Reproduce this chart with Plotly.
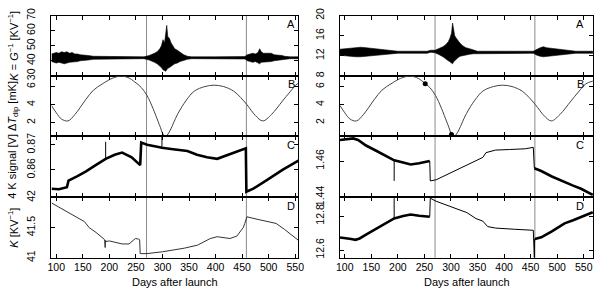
import plotly.graph_objects as go

# ---------------- data ----------------
left_xrange = [91, 555.8]
right_xrange = [91, 567.5]
day_ticks = [100, 150, 200, 250, 300, 350, 400, 450, 500, 550]
survey_boundaries = [270, 458]

# Panel A (left column): K = 1/G, noise envelope (upper / lower)
a_left_days = [91, 95, 100, 105, 110, 115, 120, 125, 130, 135, 140, 145, 150, 160, 170, 180, 190, 200, 230, 265,
               275, 280, 285, 290, 295, 298, 301, 304, 306, 308, 310, 313, 316, 319, 323, 328, 333, 340, 347, 355,
               400, 455, 460, 465, 470, 475, 480, 483, 486, 490, 495, 500, 505, 510, 515, 520, 525, 530, 540, 556]
a_left_upper = [44.5, 45, 45.5, 45, 46, 45.5, 46, 45, 45.5, 44.5, 44.5, 44, 44, 43.5, 43, 43, 42.8, 42.6, 42.6, 42.6,
                43.5, 44, 45, 46, 48, 50, 54, 52, 58, 63.5, 56, 55, 52, 50, 48, 47, 45.5, 44, 43, 42.6,
                42.6, 42.8, 44, 44.5, 45, 44.5, 45.5, 48, 46, 45, 45, 44.5, 45, 44, 44, 43.5, 43.5, 43, 42.6, 42.6]
a_left_lower = [39.5, 39, 38.5, 39, 38.5, 38, 38.5, 39, 39, 39.5, 39.5, 40, 40.5, 40.5, 41, 41, 41.2, 41.4, 41.4, 41.4,
                40.5, 40, 39, 38, 36.5, 35.5, 34, 33.5, 33, 34, 35, 35.5, 36, 37, 38, 38.5, 39.5, 40.5, 41, 41.4,
                41.4, 41.2, 40, 39.5, 39, 39.5, 38.5, 38, 39, 39, 39.5, 39.5, 39.5, 40, 40, 40.5, 40.5, 41, 41.4, 41.4]

# Panel A (right column)
a_right_days = [91, 100, 110, 120, 130, 140, 150, 160, 170, 180, 190, 200,
                255, 262, 270,
                278, 285, 290, 295, 298, 301, 303, 305, 307, 310, 313, 317, 322, 328, 335, 342, 350,
                455, 462, 468, 474, 480, 488, 496, 505, 515, 525, 535, 567]
a_right_upper = [13.3, 13.4, 13.5, 13.6, 13.7, 13.6, 13.5, 13.4, 13.2, 13.1, 13.0, 12.9,
                 12.9, 13.1, 13.1,
                 13.4, 13.8, 14.2, 14.8, 15.5, 16.5, 18.5, 17.5, 16.0, 15.5, 15.0, 14.5, 14.0, 13.6, 13.4, 13.2, 12.9,
                 12.9, 13.3, 13.6, 13.8, 13.6, 13.5, 13.4, 13.3, 13.2, 13.0, 12.9, 12.9]
a_right_lower = [12.1, 12.0, 11.9, 11.8, 11.8, 11.8, 11.9, 12.0, 12.2, 12.3, 12.4, 12.5,
                 12.5, 12.7, 12.6,
                 12.2, 11.8, 11.5, 11.0, 10.8, 10.5, 10.4, 10.8, 11.0, 11.3, 11.6, 11.9, 12.0, 12.2, 12.3, 12.4, 12.5,
                 12.5, 12.1, 11.9, 11.8, 11.9, 12.0, 12.1, 12.2, 12.3, 12.4, 12.5, 12.5]

# Panel B: dipole amplitude (both columns)
b_days = [91, 100, 110, 122, 135, 156, 170, 187, 205, 221, 235, 248, 260, 271, 282, 292, 296, 301, 306, 312,
          329, 345, 360, 380, 397, 415, 434, 447, 459, 475, 489, 505, 526, 540, 554, 567]
b_vals = [3.9, 3.1, 2.4, 2.2, 2.9, 4.6, 5.6, 6.3, 6.9, 7.15, 7.0, 6.5, 5.9, 5.0, 3.6, 2.1, 1.5, 0.75, 0.5, 0.9,
          3.0, 4.5, 5.5, 6.0, 6.15, 6.0, 5.5, 4.8, 4.0, 2.8, 2.2, 2.9, 4.4, 5.4, 6.3, 6.6]
b_marker_days = [251.5, 301]
b_marker_vals = [6.3, 0.7]

# Panel C (left): 4 K signal [V]; noisy trace + thin glitches
c_left_days = [91, 105, 120, 123, 140, 156, 175, 193, 210, 224, 242, 258, 260, 271, 290, 299,
               320, 347, 365, 384, 403, 427, 445, 455, 457, 458, 471, 495, 526, 556]
c_left_vals = [0.8525, 0.8523, 0.8531, 0.8557, 0.8575, 0.8594, 0.862, 0.8644, 0.866, 0.8669, 0.865, 0.8619,
               0.8709, 0.870, 0.8692, 0.8688, 0.8682, 0.8675, 0.866, 0.865, 0.8644, 0.8663, 0.8678, 0.8684,
               0.8686, 0.8513, 0.8525, 0.8557, 0.86, 0.8637]
c_left_glitch_days = [193, 193, None, 299, 299]
c_left_glitch_vals = [0.8644, 0.8712, None, 0.8688, 0.8731]

# Panel D (left): K [K/V]
d_left_days = [91, 120, 153, 162, 175, 190, 191, 192, 193, 194, 200, 212, 224, 237, 245, 249, 255, 257, 258, 261,
               271, 300, 341, 366, 390, 403, 415, 427, 440, 446, 452, 455, 459, 478, 496, 514, 530, 556]
d_left_vals = [41.91, 41.76, 41.6, 41.5, 41.42, 41.31, 41.30, 41.17, 41.29, 41.27, 41.28, 41.26, 41.23, 41.23,
               41.29, 41.32, 41.31, 41.30, 41.07, 41.07, 41.07, 41.10, 41.16, 41.21, 41.32, 41.35, 41.33, 41.32,
               41.36, 41.44, 41.5, 41.57, 41.68, 41.64, 41.6, 41.57, 41.47, 41.29]

# Panel C (right): three segments (noisy / quiet / noisy) + glitch
c_right_days_1 = [91, 105, 116, 125, 140, 160, 180, 193, 210, 224, 240, 258, 260]
c_right_vals_1 = [1.4715, 1.4718, 1.4724, 1.4715, 1.4685, 1.4655, 1.4625, 1.4604, 1.4592,
                  1.4581, 1.4588, 1.4598, 1.4600]
c_right_days_2 = [260, 261, 272, 300, 330, 347, 360, 366, 384, 410, 440, 455, 457]
c_right_vals_2 = [1.4600, 1.4491, 1.4497, 1.4535, 1.4580, 1.4603, 1.4620, 1.4646, 1.4660, 1.4663, 1.4667,
                  1.4675, 1.4560]
c_right_days_3 = [457, 470, 490, 514, 530, 545, 556, 567]
c_right_vals_3 = [1.4560, 1.4545, 1.4515, 1.4483, 1.4465, 1.4448, 1.4430, 1.4414]
c_right_glitch_days = [193, 193]
c_right_glitch_vals = [1.4604, 1.4491]

# Panel D (right): three segments + glitch
d_right_days_1 = [91, 100, 112, 120, 128, 140, 156, 175, 193, 210, 224, 240, 258, 260]
d_right_vals_1 = [12.674, 12.672, 12.665, 12.660, 12.668, 12.69, 12.72, 12.755, 12.786,
                  12.80, 12.809, 12.802, 12.794, 12.796]
d_right_days_2 = [260, 261, 272, 300, 330, 347, 360, 369, 384, 420, 455, 457, 457.5]
d_right_vals_2 = [12.796, 12.905, 12.887, 12.855, 12.82, 12.785, 12.77, 12.738, 12.729, 12.722, 12.716,
                  12.554, 12.665]
d_right_days_3 = [458, 470, 490, 514, 530, 545, 556, 567]
d_right_vals_3 = [12.665, 12.675, 12.71, 12.757, 12.775, 12.794, 12.81, 12.822]
d_right_glitch_days = [193, 193]
d_right_glitch_vals = [12.786, 12.905]

# y axes: ranges and tick values
y_ranges = {
    "LA": [30, 70], "LB": [0.51, 7.18], "LC": [0.849, 0.8734], "LD": [41, 42],
    "RA": [8, 20], "RB": [0.51, 7.18], "RC": [1.44, 1.4736], "RD": [12.554, 12.909],
}
y_ticks = {
    "LA": [30, 40, 50, 60, 70], "LB": [2, 4, 6], "LC": [0.86, 0.87], "LD": [41, 41.5, 42],
    "RA": [8, 12, 16, 20], "RB": [2, 4, 6], "RC": [1.44, 1.46], "RD": [12.6, 12.8],
}
y_titles = {
    "A": "<i>K</i> = <i>G</i><sup>\u22121</sup> [KV<sup>\u22121</sup>]",
    "B": "\u0394<i>T</i><sub>dip</sub> [mK]",
    "C": "4 K signal [V]",
    "D": "<i>K</i> [KV<sup>\u22121</sup>]",
}
x_title = "Days after launch"
panel_letters = ["A", "B", "C", "D"]

# ---------------- layout geometry (pixels) ----------------
W, H = 600, 297
FONT = "Liberation Sans, Arial, Helvetica, sans-serif"
col_px = {"L": (48.3, 299.3), "R": (341.7, 599.0)}
row_px = {"A": (8, 72), "B": (72, 136), "C": (136, 201), "D": (201, 265)}


def fx(p):
    return p / W


def fy(p):
    return 1 - p / H


axis_index = {}
i = 1
for c in "LR":
    for r in "ABCD":
        axis_index[c + r] = i
        i += 1

fig = go.Figure()


def ax_names(key):
    n = axis_index[key]
    return ("x" if n == 1 else f"x{n}"), ("y" if n == 1 else f"y{n}")


def add_band(key, days, upper, lower):
    assert len(days) == len(upper) == len(lower)
    xa, ya = ax_names(key)
    fig.add_trace(go.Scatter(
        x=days + days[::-1], y=upper + lower[::-1], mode="lines", fill="toself",
        fillcolor="black", line=dict(color="black", width=0.6), xaxis=xa, yaxis=ya,
        hoverinfo="skip"))


def add_line(key, days, vals, width, color="black", shape="linear"):
    assert len(days) == len(vals)
    xa, ya = ax_names(key)
    fig.add_trace(go.Scatter(
        x=days, y=vals, mode="lines", line=dict(color=color, width=width, shape=shape),
        xaxis=xa, yaxis=ya, hoverinfo="skip", connectgaps=False))


add_band("LA", a_left_days, a_left_upper, a_left_lower)
add_band("RA", a_right_days, a_right_upper, a_right_lower)
add_line("LB", b_days, b_vals, 1, "#444", "spline")
add_line("RB", b_days, b_vals, 1, "#444", "spline")
xa, ya = ax_names("RB")
fig.add_trace(go.Scatter(x=b_marker_days, y=b_marker_vals, mode="markers",
                         marker=dict(color="black", size=5), xaxis=xa, yaxis=ya, hoverinfo="skip"))
add_line("LC", c_left_days, c_left_vals, 2.6)
add_line("LC", c_left_glitch_days, c_left_glitch_vals, 1)
add_line("LD", d_left_days, d_left_vals, 1, "#333")
add_line("RC", c_right_days_1, c_right_vals_1, 2.6)
add_line("RC", c_right_days_2, c_right_vals_2, 1)
add_line("RC", c_right_days_3, c_right_vals_3, 2.6)
add_line("RC", c_right_glitch_days, c_right_glitch_vals, 1)
add_line("RD", d_right_days_1, d_right_vals_1, 2.6)
add_line("RD", d_right_days_2, d_right_vals_2, 1)
add_line("RD", d_right_days_3, d_right_vals_3, 2.6)
add_line("RD", d_right_glitch_days, d_right_glitch_vals, 1)

layout = dict(
    width=W, height=H, margin=dict(l=0, r=0, t=0, b=0),
    paper_bgcolor="white", plot_bgcolor="white", showlegend=False,
    font=dict(family=FONT, size=10.5, color="black"),
)

for key, n in axis_index.items():
    c, r = key[0], key[1]
    x0, x1 = col_px[c]
    ytop, ybot = row_px[r]
    xa = "xaxis" if n == 1 else f"xaxis{n}"
    ya = "yaxis" if n == 1 else f"yaxis{n}"
    layout[xa] = dict(
        domain=[fx(x0), fx(x1)], range=left_xrange if c == "L" else right_xrange,
        anchor=ax_names(key)[1], tickvals=day_ticks, showticklabels=(r == "D"),
        ticks="inside", ticklen=4, tickcolor="black", showline=True, linecolor="black",
        linewidth=1, mirror="ticks", showgrid=False, zeroline=False,
        tickfont=dict(size=10.5),
    )
    layout[ya] = dict(
        domain=[fy(ybot), fy(ytop)], range=y_ranges[key], anchor=ax_names(key)[0],
        tickvals=y_ticks[key], tickangle=-90, ticks="inside", ticklen=4, tickcolor="black",
        showline=True, linecolor="black", linewidth=1, mirror="ticks", showgrid=False,
        zeroline=False, tickfont=dict(size=10.5), ticklabelstandoff=11,
    )

fig.update_layout(**layout)

# survey boundary lines
shapes = []
for c in "LR":
    xref = ax_names(c + "D")[0]
    for d in survey_boundaries:
        shapes.append(dict(type="line", xref=xref, yref="paper", x0=d, x1=d,
                           y0=fy(265), y1=fy(8), line=dict(color="#8a8a8a", width=1), layer="below"))
fig.update_layout(shapes=shapes)

annotations = []
for r in "ABCD":
    ytop, ybot = row_px[r]
    annotations.append(dict(text=y_titles[r], xref="paper", yref="paper", x=0,
                            y=fy((ytop + ybot) / 2), textangle=-90, showarrow=False,
                            xanchor="left", yanchor="middle", font=dict(size=11)))
letter_y = {"A": 17, "B": 81, "C": 145, "D": 210}
for c, xr in (("L", 298), ("R", 592)):
    for r in panel_letters:
        annotations.append(dict(text=r, xref="paper", yref="paper", x=fx(xr), y=fy(letter_y[r]),
                                showarrow=False, xanchor="right", yanchor="middle",
                                font=dict(size=11)))
for c in "LR":
    x0, x1 = col_px[c]
    annotations.append(dict(text=x_title, xref="paper", yref="paper", x=fx((x0 + x1) / 2),
                            y=fy(291), showarrow=False, xanchor="center", yanchor="middle",
                            font=dict(size=11)))
fig.update_layout(annotations=annotations)

fig.write_html("out.html", config={"displayModeBar": False},
               post_script="document.body.style.margin='0';")
